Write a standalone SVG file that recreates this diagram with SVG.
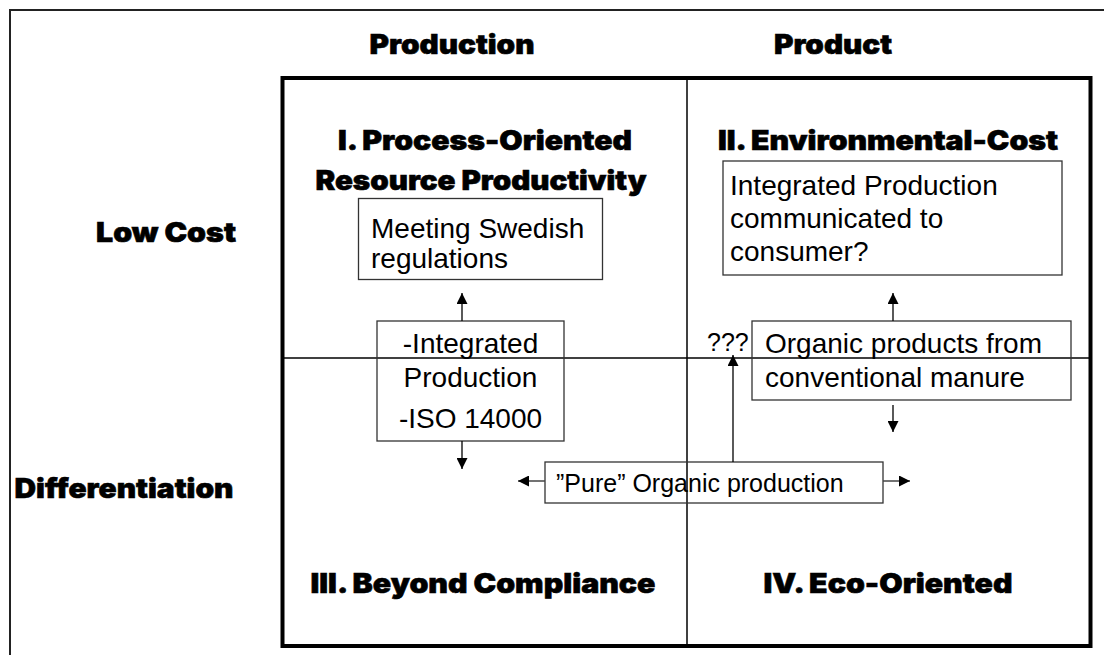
<svg xmlns="http://www.w3.org/2000/svg" width="1104" height="655" viewBox="0 0 1104 655">
<style>
.h{font-family:"Inter","Lato","DejaVu Sans",sans-serif;font-weight:900;font-size:27px;fill:#000;stroke:#000;stroke-width:0.6;text-anchor:middle}
.t{font-family:"Liberation Sans",Arial,sans-serif;font-size:28px;fill:#000}
.box{fill:none;stroke:#333;stroke-width:1.3}
.c{fill:none;stroke:#000;stroke-width:1.3}
.g{fill:none;stroke:#444;stroke-width:1.5}
</style>
<defs>
<marker id="ah" viewBox="0 0 10 10" refX="10" refY="5" markerWidth="11" markerHeight="11" markerUnits="userSpaceOnUse" orient="auto">
<path d="M0,0 L10,5 L0,10 Z" fill="#000"/>
</marker>
</defs>
<rect width="1104" height="655" fill="#fff"/>
<g id="frame">
<path d="M1110 10 H10 V660" fill="none" stroke="#222" stroke-width="2"/>
</g>
<g id="matrix">
<rect x="282.5" y="78" width="808" height="568" fill="none" stroke="#000" stroke-width="4"/>
<line x1="687" y1="78" x2="687" y2="646" stroke="#000" stroke-width="1.5"/>
<line x1="282" y1="358" x2="1090" y2="358" stroke="#000" stroke-width="1.5"/>
</g>
<g id="axis-labels">
<text class="h" x="452" y="54" textLength="165" lengthAdjust="spacingAndGlyphs">Production</text>
<text class="h" x="833" y="54" textLength="118" lengthAdjust="spacingAndGlyphs">Product</text>
<text class="h" x="166" y="242" textLength="140" lengthAdjust="spacingAndGlyphs">Low Cost</text>
<text class="h" x="124" y="498" textLength="219" lengthAdjust="spacingAndGlyphs">Differentiation</text>
</g>
<g id="q1">
<text class="h" x="485" y="150" textLength="294" lengthAdjust="spacingAndGlyphs">I. Process-Oriented</text>
<text class="h" x="481" y="190" textLength="331" lengthAdjust="spacingAndGlyphs">Resource Productivity</text>
</g>
<g id="q2">
<text class="h" x="888" y="150" textLength="340" lengthAdjust="spacingAndGlyphs">II. Environmental-Cost</text>
</g>
<g id="q3">
<text class="h" x="483" y="593" textLength="345" lengthAdjust="spacingAndGlyphs">III. Beyond Compliance</text>
</g>
<g id="q4">
<text class="h" x="888" y="593" textLength="249" lengthAdjust="spacingAndGlyphs">IV. Eco-Oriented</text>
</g>
<g id="meeting">
<rect class="box" x="358.5" y="198.5" width="244" height="81"/>
<text class="t" x="371" y="238">Meeting Swedish</text>
<text class="t" x="371" y="268">regulations</text>
</g>
<g id="integrated">
<rect class="box" x="377" y="321" width="187" height="120"/>
<text class="t" x="470.5" y="353" text-anchor="middle">-Integrated</text>
<text class="t" x="470.5" y="387" text-anchor="middle">Production</text>
<text class="t" x="470.5" y="428" text-anchor="middle">-ISO 14000</text>
</g>
<g id="ip-consumer">
<rect class="box" x="723" y="161" width="339" height="114"/>
<text class="t" x="730" y="195">Integrated Production</text>
<text class="t" x="730" y="228">communicated to</text>
<text class="t" x="730" y="261">consumer?</text>
</g>
<g id="organic-manure">
<rect class="box" x="752" y="321" width="319" height="79"/>
<text class="t" x="765" y="353">Organic products from</text>
<text class="t" x="765" y="387">conventional manure</text>
</g>
<g id="pure-organic">
<rect class="box" x="545" y="462" width="338" height="41"/>
<text class="t" x="556" y="492" style="font-size:25px">”Pure” Organic production</text>
</g>
<g id="qqq">
<text class="t" x="707" y="351" style="font-size:25px">???</text>
</g>
<g id="connectors">
<line class="c" x1="462" y1="321" x2="462" y2="293" marker-end="url(#ah)"/>
<line class="c" x1="462" y1="441" x2="462" y2="469" marker-end="url(#ah)"/>
<line class="c" x1="893" y1="321" x2="893" y2="293" marker-end="url(#ah)"/>
<line class="c" x1="893" y1="405" x2="893" y2="432" marker-end="url(#ah)"/>
<line class="c" x1="733" y1="462" x2="733" y2="355" marker-end="url(#ah)"/>
<line class="g" x1="545" y1="481" x2="518" y2="481" marker-end="url(#ah)"/>
<line class="g" x1="883" y1="481" x2="910" y2="481" marker-end="url(#ah)"/>
</g>
</svg>
